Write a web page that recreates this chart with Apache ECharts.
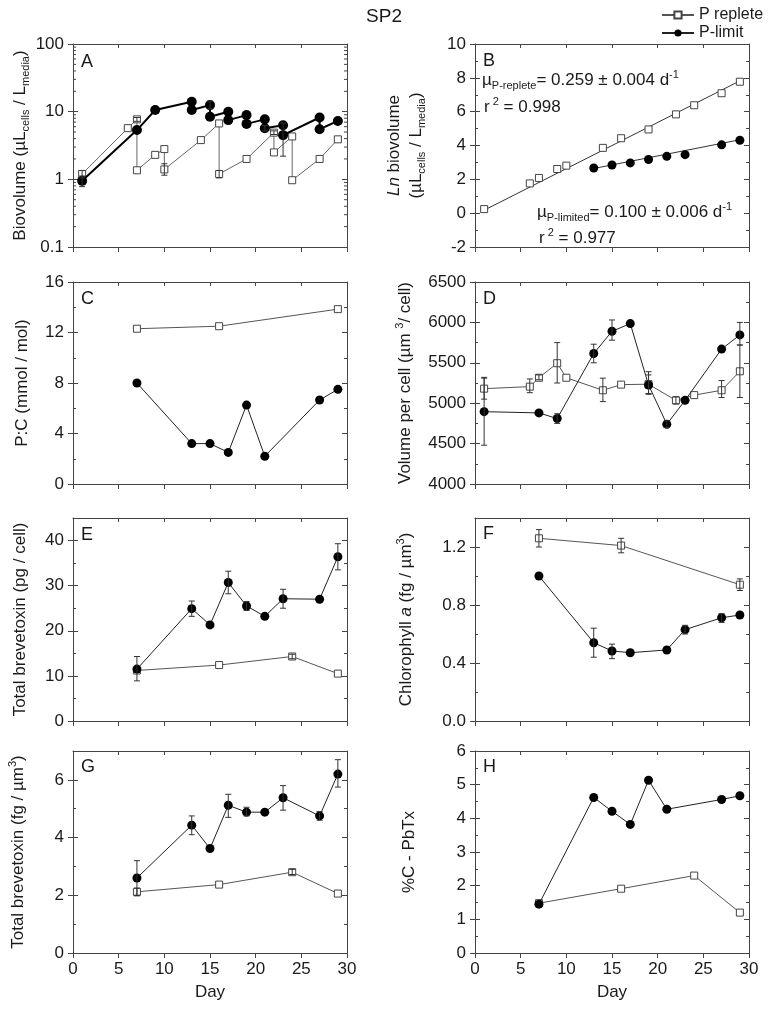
<!DOCTYPE html>
<html><head><meta charset="utf-8">
<script src="https://cdn.jsdelivr.net/npm/echarts@6/dist/echarts.min.js"></script>
<style>html,body{margin:0;padding:0;background:#fff}#c{width:768px;height:1010px}</style>
</head><body><div id="c"></div>
<script>
// ---------------- data ----------------
// A: biovolume (log)
const aRepDay = [1, 6, 7, 7, 9, 10, 10, 14, 16, 16, 19, 22, 22, 24, 24, 27, 29];
const aRepVal = [1.2, 5.7, 7.7, 1.36, 2.3, 2.8, 1.4, 3.8, 6.7, 1.2, 2.0, 4.9, 2.5, 4.3, 0.97, 2.0, 3.9];
const aLimDay = [1, 7, 9, 13, 13, 15, 15, 17, 17, 19, 19, 21, 21, 23, 23, 27, 27, 29];
const aLimVal = [0.95, 5.35, 10.6, 14.0, 10.6, 12.5, 8.4, 10.0, 7.5, 8.9, 6.6, 7.7, 5.7, 6.3, 4.5, 8.2, 5.5, 7.3];
const aErr = [[1, 1.05, 1.35], [10, 1.15, 1.7], [16, 1.05, 1.35], [7, 7.2, 8.2], [22, 4.6, 5.2],
              [1, 0.78, 1.12], [15, 11.0, 14.3], [23, 2.2, 6.8], [21, 5.2, 6.2]];
const aMinorTicks = [0.2, 0.3, 0.4, 0.5, 0.6, 0.7, 0.8, 0.9, 2, 3, 4, 5, 6, 7, 8, 9, 20, 30, 40, 50, 60, 70, 80, 90];
// B: ln biovolume
const bRepDay = [1, 6, 7, 9, 10, 14, 16, 19, 22, 24, 27, 29];
const bRepVal = [0.24, 1.76, 2.08, 2.61, 2.81, 3.86, 4.43, 4.95, 5.84, 6.38, 7.09, 7.77];
const bLimDay = [13, 15, 17, 19, 21, 23, 27, 29];
const bLimVal = [2.67, 2.85, 2.97, 3.17, 3.36, 3.46, 4.04, 4.31];
const bRepFitDay = [0.8, 29.3];
const bRepFitVal = [0.12, 7.9];
const bLimFitDay = [12.8, 29.4];
const bLimFitVal = [2.62, 4.38];
// C: P:C
const cRepDay = [7, 16, 29];
const cRepVal = [12.3, 12.5, 13.85];
const cLimDay = [7, 13, 15, 17, 19, 21, 27, 29];
const cLimVal = [8.0, 3.2, 3.2, 2.5, 6.25, 2.2, 6.65, 7.5];
// D: volume per cell
const dRepDay = [1, 6, 7, 9, 10, 14, 16, 19, 22, 24, 27, 29];
const dRepVal = [5180, 5205, 5315, 5495, 5315, 5160, 5230, 5235, 5035, 5100, 5160, 5395];
const dLimDay = [1, 7, 9, 13, 15, 17, 19, 21, 23, 27, 29];
const dLimVal = [4895, 4880, 4810, 5615, 5890, 5985, 5225, 4740, 5035, 5670, 5845];
const dErr = [[1, 5050, 5320], [6, 5130, 5300], [7, 5290, 5350], [9, 5250, 5750], [14, 5020, 5310],
              [19, 5120, 5390], [22, 4990, 5080], [27, 5070, 5280], [29, 5070, 5720],
              [1, 4480, 5310], [9, 4750, 4870], [13, 5500, 5730], [15, 5780, 6030], [19, 5110, 5350],
              [21, 4700, 4780], [29, 5720, 6000]];
// E: total brevetoxin per cell
const eRepDay = [7, 16, 24, 29];
const eRepVal = [11.2, 12.4, 14.3, 10.5];
const eLimDay = [7, 13, 15, 17, 19, 21, 23, 27, 29];
const eLimVal = [11.5, 24.9, 21.3, 30.7, 25.5, 23.2, 27.1, 27.0, 36.4];
const eErr = [[24, 13.8, 14.8], [7, 8.9, 14.3], [13, 23.2, 26.6], [17, 28.2, 33.2], [19, 24.5, 26.5],
              [23, 25, 29.2], [29, 33.5, 39.3]];
// F: chlorophyll a
const fRepDay = [7, 16, 29];
const fRepVal = [1.26, 1.21, 0.94];
const fLimDay = [7, 13, 15, 17, 21, 23, 27, 29];
const fLimVal = [1.0, 0.54, 0.483, 0.471, 0.49, 0.63, 0.712, 0.731];
const fErr = [[7, 1.20, 1.32], [16, 1.16, 1.26], [29, 0.90, 0.98], [13, 0.44, 0.64], [15, 0.43, 0.53],
              [23, 0.60, 0.66], [27, 0.68, 0.74]];
// G: total brevetoxin per volume
const gRepDay = [7, 16, 24, 29];
const gRepVal = [2.12, 2.37, 2.8, 2.06];
const gLimDay = [7, 13, 15, 17, 19, 21, 23, 27, 29];
const gLimVal = [2.6, 4.43, 3.62, 5.12, 4.88, 4.88, 5.38, 4.75, 6.2];
const gErr = [[7, 1.98, 2.25], [24, 2.72, 2.9], [7, 2.0, 3.2], [13, 4.1, 4.75], [17, 4.7, 5.5],
              [19, 4.75, 5.05], [23, 4.95, 5.8], [27, 4.6, 4.9], [29, 5.75, 6.7]];
// H: %C - PbTx
const hRepDay = [7, 16, 24, 29];
const hRepVal = [1.48, 1.91, 2.3, 1.2];
const hLimDay = [7, 13, 15, 17, 19, 21, 27, 29];
const hLimVal = [1.45, 4.62, 4.21, 3.82, 5.13, 4.27, 4.56, 4.67];

// ---------------- style ----------------
const FONT = '"Liberation Sans", Arial, Helvetica, sans-serif';
const AX = '#444';
const TXT = '#1a1a1a';
const FS = 17;
const richName = {
  sub: { fontSize: 11, lineHeight: 11, verticalAlign: 'bottom', fontFamily: FONT, color: TXT },
  sup: { fontSize: 11, lineHeight: 11, verticalAlign: 'top', fontFamily: FONT, color: TXT },
  i: { fontSize: FS, fontStyle: 'italic', fontFamily: FONT, color: TXT }
};

const panels = [
  { g: [73, 44, 274, 203], y: { type: 'log', min: 0.1, max: 100 }, name: 'Biovolume (µL{sub|cells} / L{sub|media})', gap: 42, xl: false },
  { g: [475, 44, 274, 203], y: { min: -2, max: 10, interval: 2 }, name: '{i|Ln} biovolume\n(µL{sub|cells} / L{sub|media})', gap: 48, xl: false },
  { g: [73, 282, 274, 202], y: { min: 0, max: 16, interval: 4 }, name: 'P:C (mmol / mol)', gap: 40, xl: false },
  { g: [475, 282, 274, 202], y: { min: 4000, max: 6500, interval: 500 }, name: 'Volume per cell (µm {sup|3}/ cell)', gap: 59, xl: false },
  { g: [73, 518, 274, 203], y: { min: 0, max: 45, interval: 10, hideMax: true }, name: 'Total brevetoxin (pg / cell)', gap: 42, xl: false },
  { g: [475, 518, 274, 203], y: { min: 0, max: 1.4, interval: 0.4, hideMax: true, dec: 1 }, name: 'Chlorophyll {i|a} (fg / µm{sup|3})', gap: 58, xl: false },
  { g: [73, 751, 274, 202], y: { min: 0, max: 7, interval: 2, hideMax: true }, name: 'Total brevetoxin (fg / µm{sup|3})', gap: 44, xl: true },
  { g: [475, 751, 274, 202], y: { min: 0, max: 6, interval: 1 }, name: '%C - PbTx', gap: 55, xl: true }
];

const grids = [], xAxes = [], yAxes = [];
const lineSt = { show: true, onZero: false, lineStyle: { color: AX, width: 1 } };
panels.forEach((p, i) => {
  grids.push({ left: p.g[0], top: p.g[1], width: p.g[2], height: p.g[3], containLabel: false });
  const xb = { type: 'value', gridIndex: i, min: 0, max: 30, interval: 5, splitLine: { show: false } };
  xAxes.push(Object.assign({}, xb, {
    position: 'bottom', axisLine: lineSt,
    axisTick: { show: true, inside: false, length: 5, lineStyle: { color: AX } },
    axisLabel: { show: p.xl, margin: 8, fontSize: FS, color: TXT, fontFamily: FONT },
    name: p.xl ? 'Day' : '', nameLocation: 'middle', nameGap: 31,
    nameTextStyle: { fontSize: FS, color: TXT, fontFamily: FONT }
  }));
  xAxes.push(Object.assign({}, xb, {
    position: 'top', axisLine: lineSt,
    axisTick: { show: true, inside: true, length: 4, lineStyle: { color: AX } },
    axisLabel: { show: false }
  }));
  const isLog = p.y.type === 'log';
  const yb = { type: isLog ? 'log' : 'value', gridIndex: i, min: p.y.min, max: p.y.max, splitLine: { show: false } };
  if (isLog) yb.logBase = 10; else yb.interval = p.y.interval;
  const minor = { show: !isLog, splitNumber: 2, length: 3, lineStyle: { color: AX } };
  let fmt;
  if (p.y.dec) fmt = (v) => Number(v).toFixed(p.y.dec);
  else if (!isLog) fmt = (v) => String(Math.round(v * 1000) / 1000);
  yAxes.push(Object.assign({}, yb, {
    position: 'left', axisLine: lineSt,
    axisTick: { show: true, inside: false, length: 5, lineStyle: { color: AX } },
    axisLabel: {
      show: true, margin: 9, fontSize: FS, color: TXT, fontFamily: FONT,
      showMaxLabel: !p.y.hideMax, formatter: fmt
    },
    name: p.name, nameLocation: 'middle', nameRotate: 90, nameGap: p.gap,
    nameTextStyle: { fontSize: FS, color: TXT, fontFamily: FONT, lineHeight: 22, rich: richName }
  }));
  yAxes.push(Object.assign({}, yb, {
    position: 'left', axisLine: { show: false, onZero: false },
    axisTick: { show: true, inside: true, length: 5, lineStyle: { color: AX } },
    minorTick: minor, axisLabel: { show: false }
  }));
  yAxes.push(Object.assign({}, yb, {
    position: 'right', axisLine: lineSt,
    axisTick: { show: true, inside: true, length: 5, lineStyle: { color: AX } },
    minorTick: minor, axisLabel: { show: false }
  }));
});

function pairs(days, vals) { return days.map((d, k) => [d, vals[k]]); }
function rep(i, days, vals, extra) {
  return Object.assign({
    type: 'line', name: 'P replete', xAxisIndex: 2 * i, yAxisIndex: 3 * i, data: pairs(days, vals),
    symbol: 'rect', symbolSize: 7, lineStyle: { color: '#555', width: 1 },
    itemStyle: { color: '#fff', borderColor: '#444', borderWidth: 1 }, z: 3, animation: false,
    emphasis: { disabled: true }
  }, extra || {});
}
function lim(i, days, vals, extra) {
  return Object.assign({
    type: 'line', name: 'P-limit', xAxisIndex: 2 * i, yAxisIndex: 3 * i, data: pairs(days, vals),
    symbol: 'circle', symbolSize: 9, lineStyle: { color: '#222', width: 1 },
    itemStyle: { color: '#000' }, z: 4, animation: false, emphasis: { disabled: true }
  }, extra || {});
}
function errs(i, data) {
  return {
    type: 'custom', name: 'err' + i, xAxisIndex: 2 * i, yAxisIndex: 3 * i, data: data, z: 6,
    silent: true, animation: false, encode: { x: 0, y: [1, 2] },
    renderItem: function (params, api) {
      const x = api.value(0), lo = api.value(1), hi = api.value(2);
      const a = api.coord([x, lo]), b = api.coord([x, hi]);
      const s = { stroke: '#333', lineWidth: 1 };
      return { type: 'group', children: [
        { type: 'line', shape: { x1: a[0], y1: a[1], x2: b[0], y2: b[1] }, style: s },
        { type: 'line', shape: { x1: a[0] - 3, y1: a[1], x2: a[0] + 3, y2: a[1] }, style: s },
        { type: 'line', shape: { x1: b[0] - 3, y1: b[1], x2: b[0] + 3, y2: b[1] }, style: s }
      ] };
    }
  };
}
function fit(i, days, vals) {
  return { type: 'line', name: 'fit' + days[0], xAxisIndex: 2 * i, yAxisIndex: 3 * i, data: pairs(days, vals),
    symbol: 'none', lineStyle: { color: '#333', width: 1 }, z: 2, animation: false, silent: true };
}

const series = [
  rep(2, cRepDay, cRepVal), lim(2, cLimDay, cLimVal),
  rep(0, aRepDay, aRepVal, { lineStyle: { color: '#666', width: 1 } }),
  lim(0, aLimDay, aLimVal, { symbolSize: 10, lineStyle: { color: '#000', width: 2 } }),
  errs(0, aErr),
  {
    type: 'custom', name: 'aMinor', xAxisIndex: 0, yAxisIndex: 0, silent: true, animation: false, z: 1,
    data: aMinorTicks.map(v => [0, v]), encode: { x: 0, y: 1 },
    renderItem: function (params, api) {
      const v = api.value(1);
      const l = api.coord([0, v]), r = api.coord([30, v]);
      const s = { stroke: AX, lineWidth: 1 };
      return { type: 'group', children: [
        { type: 'line', shape: { x1: l[0], y1: l[1], x2: l[0] + 3, y2: l[1] }, style: s },
        { type: 'line', shape: { x1: r[0] - 3, y1: r[1], x2: r[0], y2: r[1] }, style: s }
      ] };
    }
  },
  fit(1, bRepFitDay, bRepFitVal), fit(1, bLimFitDay, bLimFitVal),
  rep(1, bRepDay, bRepVal, { lineStyle: { width: 0, opacity: 0 } }),
  lim(1, bLimDay, bLimVal, { lineStyle: { width: 0, opacity: 0 } }),
  rep(3, dRepDay, dRepVal), lim(3, dLimDay, dLimVal), errs(3, dErr),
  rep(4, eRepDay, eRepVal), lim(4, eLimDay, eLimVal), errs(4, eErr),
  rep(5, fRepDay, fRepVal), lim(5, fLimDay, fLimVal), errs(5, fErr),
  rep(6, gRepDay, gRepVal), lim(6, gLimDay, gLimVal), errs(6, gErr),
  rep(7, hRepDay, hRepVal), lim(7, hLimDay, hLimVal)
];

const richG = {
  sub: { fontSize: 11, lineHeight: 11, verticalAlign: 'bottom', fontFamily: FONT, fill: TXT },
  sup: { fontSize: 11, lineHeight: 11, verticalAlign: 'top', fontFamily: FONT, fill: TXT }
};
function gtext(x, y, text, size) {
  return { type: 'text', x: x, y: y, silent: true,
    style: { text: text, fontSize: size || FS, fontFamily: FONT, fill: TXT, lineHeight: 22,
      verticalAlign: 'middle', align: 'left', rich: richG } };
}
const letters = [['A', 81, 62], ['B', 483, 61], ['C', 81, 299], ['D', 483, 299],
                 ['E', 81, 535], ['F', 483, 534], ['G', 81, 767], ['H', 483, 767]];
const graphic = letters.map(l => gtext(l[1], l[2], l[0], 18)).concat([
  gtext(482, 80, 'µ{sub|P-replete}= 0.259 ± 0.004 d{sup|-1}'),
  gtext(484, 107, 'r{sup| 2} = 0.998'),
  gtext(537, 212, 'µ{sub|P-limited}= 0.100 ± 0.006 d{sup|-1}'),
  gtext(539, 238, 'r{sup| 2} = 0.977')
]);

const chart = echarts.init(document.getElementById('c'), null, { renderer: 'canvas' });
chart.setOption({
  backgroundColor: '#fff',
  animation: false,
  title: { text: 'SP2', left: 'center', top: 2, textStyle: { fontSize: 19, fontWeight: 'normal', fontFamily: FONT, color: TXT } },
  legend: {
    data: ['P replete', 'P-limit'], orient: 'vertical', left: 656, top: 2, itemWidth: 32, itemHeight: 9,
    itemGap: 2, selectedMode: false, textStyle: { fontSize: 16, fontFamily: FONT, color: TXT }
  },
  grid: grids, xAxis: xAxes, yAxis: yAxes, series: series, graphic: graphic
});
</script></body></html>
